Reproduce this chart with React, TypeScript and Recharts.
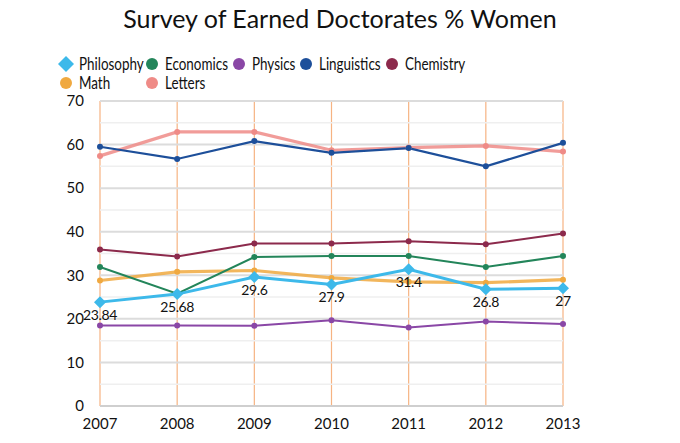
import React from "react";
import {
  LineChart,
  Line,
  XAxis,
  YAxis,
  CartesianGrid,
  ReferenceLine,
  LabelList,
} from "recharts";

const years = ["2007", "2008", "2009", "2010", "2011", "2012", "2013"];

const philosophy = [23.84, 25.68, 29.6, 27.9, 31.4, 26.8, 27];
const economics = [31.9, 25.8, 34.2, 34.4, 34.4, 31.9, 34.4];
const physics = [18.5, 18.5, 18.4, 19.7, 18.0, 19.4, 18.8];
const linguistics = [59.5, 56.7, 60.8, 58.1, 59.2, 55.0, 60.4];
const chemistry = [35.9, 34.3, 37.3, 37.3, 37.8, 37.1, 39.6];
const math = [28.8, 30.8, 31.1, 29.4, 28.5, 28.3, 29.0];
const letters = [57.4, 62.9, 62.9, 58.7, 59.3, 59.7, 58.4];

const yTicks = [0, 10, 20, 30, 40, 50, 60, 70];
const minorTicks = [5, 15, 25, 35, 45, 55, 65];

const series = [
  { key: "Philosophy", values: philosophy, color: "#3db9ea", width: 3 },
  { key: "Economics", values: economics, color: "#23855a", width: 2 },
  { key: "Physics", values: physics, color: "#8a47a6", width: 2 },
  { key: "Linguistics", values: linguistics, color: "#1d4f9a", width: 2.2 },
  { key: "Chemistry", values: chemistry, color: "#8c2a4c", width: 2 },
  { key: "Math", values: math, color: "#f0a940", width: 3.2 },
  { key: "Letters", values: letters, color: "#ef8b87", width: 3.2 },
];

const data = years.map((year, i) => {
  const row: Record<string, string | number> = { year };
  series.forEach((s) => {
    row[s.key] = s.values[i];
  });
  return row;
});

const font = "Lato, 'DejaVu Sans', sans-serif";

function Diamond(props: any) {
  const { cx, cy, fill } = props;
  if (cx == null || cy == null) return null;
  const r = 6;
  return (
    <path
      d={`M${cx},${cy - r}L${cx + r},${cy}L${cx},${cy + r}L${cx - r},${cy}Z`}
      fill={fill}
    />
  );
}

function LegendIcon({ color, diamond }: { color: string; diamond: boolean }) {
  return (
    <svg width={16} height={16} style={{ marginRight: 5, flex: "none" }}>
      {diamond ? (
        <path d="M8,0L16,8L8,16L0,8Z" fill={color} />
      ) : (
        <circle cx={8} cy={8} r={6} fill={color} />
      )}
    </svg>
  );
}

export default function App() {
  // legend: first row of five, then Math and Letters below
  const legendOrder = ["Philosophy", "Economics", "Physics", "Linguistics", "Chemistry", "Math", "Letters"];
  return (
    <div
      style={{
        position: "absolute",
        left: 0,
        top: 0,
        width: 680,
        height: 443,
        background: "#fff",
        fontFamily: font,
      }}
    >
      <div
        style={{
          position: "absolute",
          top: 3,
          left: 0,
          width: 680,
          textAlign: "center",
          fontSize: 25,
          color: "#111",
        }}
      >
        Survey of Earned Doctorates % Women
      </div>
      <div
        style={{
          position: "absolute",
          top: 54,
          left: 58,
          display: "grid",
          gridTemplateColumns: "86px 87px 67px 86px 90px",
          rowGap: 0,
          fontSize: 17,
          color: "#111",
        }}
      >
        {legendOrder.map((k) => {
          const s = series.find((x) => x.key === k)!;
          return (
            <div key={k} style={{ display: "flex", alignItems: "center", height: 19, whiteSpace: "nowrap" }}>
              <LegendIcon color={s.color} diamond={k === "Philosophy"} />
              <span style={{ display: "inline-block", transform: "scaleX(0.79)", transformOrigin: "left center" }}>
                {k}
              </span>
            </div>
          );
        })}
      </div>
      <LineChart
        width={680}
        height={443}
        data={data}
        margin={{ top: 101, right: 117, bottom: 7, left: 60 }}
      >
        <CartesianGrid horizontal={false} stroke="#f6b382" strokeWidth={1.2} />
        <CartesianGrid vertical={false} stroke="#dcdcdc" strokeWidth={2} />
        {minorTicks.map((t) => (
          <ReferenceLine key={t} y={t} stroke="#efefef" strokeWidth={1.5} />
        ))}
        <XAxis
          dataKey="year"
          padding={{ left: 0, right: 0 }}
          tickLine={false}
          axisLine={{ stroke: "#cfcfcf", strokeWidth: 2 }}
          tick={{ fill: "#111", fontSize: 15, fontFamily: font }}
          tickMargin={6}
          interval={0}
        />
        <YAxis
          width={40}
          domain={[0, 70]}
          ticks={yTicks}
          tickLine={false}
          axisLine={false}
          tick={{ fill: "#111", fontSize: 15, fontFamily: font }}
          tickMargin={10}
        />
        {[...series].reverse().map((s) => (
          <Line
            key={s.key}
            dataKey={s.key}
            stroke={s.color}
            strokeWidth={s.width}
            strokeOpacity={s.key === "Math" || s.key === "Letters" ? 0.85 : 1}
            fill={s.color}
            dot={
              s.key === "Philosophy" ? (
                <Diamond fill={s.color} />
              ) : (
                { r: 3, fill: s.color, stroke: "none" }
              )
            }
            isAnimationActive={false}
          >
            {s.key === "Philosophy" && (
              <LabelList
                dataKey="Philosophy"
                position="bottom"
                offset={8}
                style={{ fill: "#111", fontSize: 14, letterSpacing: -0.4, fontFamily: font }}
              />
            )}
          </Line>
        ))}
      </LineChart>
    </div>
  );
}
